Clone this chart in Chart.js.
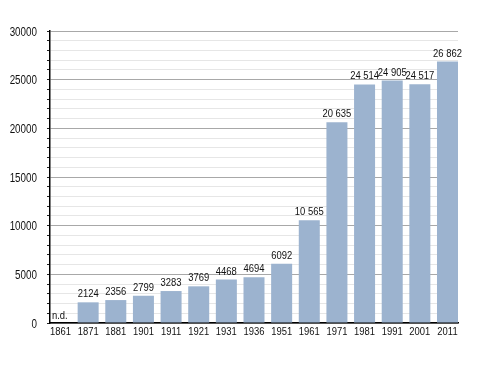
<!DOCTYPE html>
<html>
<head>
<meta charset="utf-8">
<script src="https://cdn.jsdelivr.net/npm/chart.js@4"></script>
<style>
  html, body { margin: 0; padding: 0; background: #fff; }
  canvas { display: block; }
</style>
</head>
<body>
<canvas id="chart" width="488" height="373"></canvas>
<script>
const years = ["1861", "1871", "1881", "1901", "1911", "1921", "1931", "1936", "1951", "1961", "1971", "1981", "1991", "2001", "2011"];
const population = [null, 2124, 2356, 2799, 3283, 3769, 4468, 4694, 6092, 10565, 20635, 24514, 24905, 24517, 26862];
const yTicks = [0, 5000, 10000, 15000, 20000, 25000, 30000];

const FONT = "'Liberation Sans', Arial, sans-serif";
const SQUEEZE = 0.82; // the original uses a narrow face

function formatValue(v) {
	const s = String(v);
	return v >= 10000 ? s.slice(0, -3) + " " + s.slice(-3) : s;
}

function narrowText(ctx, text, x, y, align) {
	ctx.save();
	ctx.translate(x, y);
	ctx.scale(SQUEEZE, 1);
	ctx.textAlign = align;
	ctx.fillText(text, 0, 0);
	ctx.restore();
}

// all texts are drawn squeezed, positioned from the chart's own scales
const narrowLabels = {
	id: "narrowLabels",
	afterDraw(chart) {
		const ctx = chart.ctx;
		const xScale = chart.scales.x;
		const yScale = chart.scales.y;
		const area = chart.chartArea;
		const meta = chart.getDatasetMeta(0);
		ctx.save();
		ctx.fillStyle = "#111";
		ctx.textBaseline = "alphabetic";

		ctx.font = "12px " + FONT;
		yTicks.forEach((v) => {
			narrowText(ctx, String(v), area.left - 13, yScale.getPixelForValue(v) + 4.5, "right");
		});

		ctx.font = "11.5px " + FONT;
		years.forEach((y, i) => {
			narrowText(ctx, y, xScale.getPixelForValue(i), area.bottom + 12, "center");
		});

		population.forEach((v, i) => {
			if (v === null) {
				narrowText(ctx, "n.d.", area.left + 2, area.bottom - 4.5, "left");
				return;
			}
			const bar = meta.data[i];
			narrowText(ctx, formatValue(v), bar.x, bar.y - 5, "center");
		});
		ctx.restore();
	}
};

new Chart(document.getElementById("chart"), {
	type: "bar",
	data: {
		datasets: [
			{
				data: population.map((v, i) => ({ x: i, y: v })),
				backgroundColor: "#9cb3cf",
				borderWidth: 0,
				barPercentage: 0.76,
				categoryPercentage: 1
			}
		]
	},
	options: {
		responsive: false,
		animation: false,
		devicePixelRatio: 1,
		layout: { padding: { top: 31, right: 30, left: 0, bottom: 0 } },
		plugins: {
			legend: { display: false },
			tooltip: { enabled: false }
		},
		scales: {
			x: {
				type: "linear",
				offset: false,
				min: -0.38,
				max: 14.38,
				afterBuildTicks: (scale) => {
					scale.ticks = years.map((_, i) => ({ value: i }));
				},
				afterFit: (scale) => {
					scale.height = 373 - 323;
				},
				ticks: { display: false, autoSkip: false },
				grid: { offset: false, drawOnChartArea: false, drawTicks: false },
				border: { display: true, color: "#000", width: 1.5 }
			},
			y: {
				min: 0,
				max: 30000,
				afterBuildTicks: (scale) => {
					const ticks = [];
					for (let v = 0; v <= 30000; v += 1000) ticks.push({ value: v });
					scale.ticks = ticks;
				},
				afterFit: (scale) => {
					scale.width = 50;
				},
				ticks: { display: false, autoSkip: false },
				grid: {
					color: (c) => (c.tick && c.tick.value % 5000 === 0 ? "#a8a8a8" : "#e6e6e6"),
					tickColor: "#222",
					tickLength: 3,
					lineWidth: 1
				},
				border: { display: true, color: "#000", width: 1.5 }
			}
		}
	},
	plugins: [narrowLabels]
});
</script>
</body>
</html>
